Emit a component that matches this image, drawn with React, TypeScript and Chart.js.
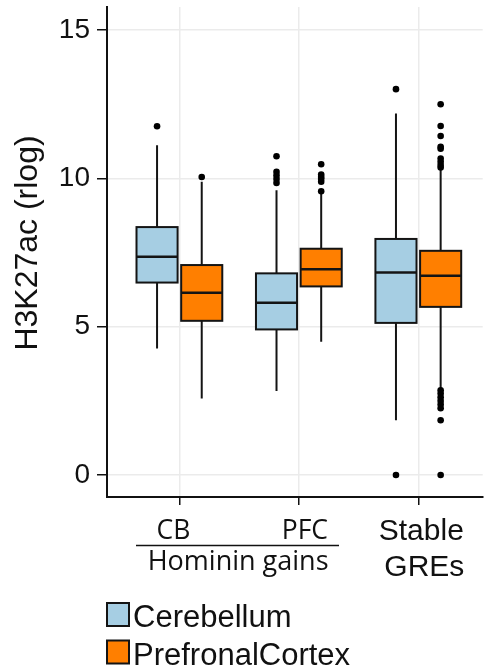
import React, { useEffect, useRef } from 'react';
import { Chart, registerables } from 'chart.js';

Chart.register(...registerables);

// ---- data ----
const categories = ['CB', 'PFC', 'Stable GREs'];
const seriesNames = ['Cerebellum', 'PrefronalCortex'];
const seriesColors = ['#a6cee3', '#ff7f00'];
const yTicks = [0, 5, 10, 15];

// Cerebellum box stats per category
const cbLow = [4.27, 2.83, 1.85];
const cbQ1 = [6.49, 4.91, 5.13];
const cbMed = [7.36, 5.81, 6.83];
const cbQ3 = [8.36, 6.8, 7.96];
const cbHigh = [11.12, 9.6, 12.19];
const cbOutliers = [
  [11.76],
  [10.75, 10.22, 10.1, 9.98, 9.85],
  [13.01, 0.0],
];

// PrefronalCortex box stats per category
const pfcLow = [2.58, 4.49, 2.86];
const pfcQ1 = [5.2, 6.36, 5.67];
const pfcMed = [6.15, 6.94, 6.72];
const pfcQ3 = [7.08, 7.63, 7.56];
const pfcHigh = [9.89, 9.52, 10.33];
const pfcOutliers = [
  [10.05],
  [10.48, 10.13, 10.05, 9.98, 9.89, 9.57],
  [12.5, 11.77, 11.43, 11.07, 11.0, 10.67, 10.56, 10.45, 10.37, 2.86, 2.75, 2.62, 2.5, 2.38, 2.25, 1.85, 0.0],
];

const DODGE = 0.187;
const BOX_W = 0.344;

const groups = [
  { low: cbLow, q1: cbQ1, med: cbMed, q3: cbQ3, high: cbHigh, out: cbOutliers, offset: -DODGE, color: seriesColors[0] },
  { low: pfcLow, q1: pfcQ1, med: pfcMed, q3: pfcQ3, high: pfcHigh, out: pfcOutliers, offset: DODGE, color: seriesColors[1] },
];

const INK = '#141414';

const boxPlugin = {
  id: 'boxes',
  beforeDatasetsDraw(chart: any) {
    const { ctx, chartArea, scales } = chart;
    const x = scales.x;
    const y = scales.y;
    ctx.save();
    ctx.beginPath();
    ctx.rect(chartArea.left, chartArea.top, chartArea.right - chartArea.left, chartArea.bottom - chartArea.top);
    ctx.clip();
    groups.forEach((g) => {
      categories.forEach((_, i) => {
        const c = i + g.offset;
        const cx = x.getPixelForValue(c);
        const l = x.getPixelForValue(c - BOX_W / 2);
        const r = x.getPixelForValue(c + BOX_W / 2);
        ctx.strokeStyle = INK;
        ctx.lineWidth = 2;
        ctx.beginPath();
        ctx.moveTo(cx, y.getPixelForValue(g.low[i]));
        ctx.lineTo(cx, y.getPixelForValue(g.high[i]));
        ctx.stroke();
        const top = y.getPixelForValue(g.q3[i]);
        const bot = y.getPixelForValue(g.q1[i]);
        ctx.fillStyle = g.color;
        ctx.fillRect(l, top, r - l, bot - top);
        ctx.lineWidth = 2;
        ctx.strokeRect(l, top, r - l, bot - top);
        ctx.lineWidth = 2.5;
        ctx.beginPath();
        const m = y.getPixelForValue(g.med[i]);
        ctx.moveTo(l, m);
        ctx.lineTo(r, m);
        ctx.stroke();
      });
    });
    ctx.restore();
  },
};

const labelPlugin = {
  id: 'labels',
  afterDraw(chart: any) {
    const { ctx, scales } = chart;
    const x = scales.x;
    ctx.save();
    ctx.fillStyle = '#111';
    ctx.textAlign = 'center';
    ctx.textBaseline = 'alphabetic';
    // y axis title
    ctx.save();
    ctx.translate(28, 243);
    ctx.rotate(-Math.PI / 2);
    ctx.font = '32px "Liberation Sans", Arial, sans-serif';
    ctx.textBaseline = 'middle';
    ctx.fillText('H3K27ac (rlog)', 0, 0);
    ctx.restore();

    // category labels
    const cx0 = x.getPixelForValue(0);
    const cx1 = x.getPixelForValue(1);
    const cx2 = x.getPixelForValue(2);
    ctx.font = '26.5px "Open Sans", "Noto Sans", sans-serif';
    ctx.fillText(categories[0], cx0 - 6, 538.5);
    ctx.fillText(categories[1], cx1 + 6, 538.5);
    ctx.strokeStyle = '#111';
    ctx.lineWidth = 1.5;
    ctx.beginPath();
    ctx.moveTo(136, 545.5);
    ctx.lineTo(339, 545.5);
    ctx.stroke();
    ctx.font = '27px "Open Sans", "Noto Sans", sans-serif';
    ctx.fillText('Hominin gains', (cx0 + cx1) / 2 - 1, 570);
    const parts = categories[2].split(' ');
    ctx.font = '30px "Liberation Sans", Arial, sans-serif';
    ctx.fillText(parts[0], cx2 + 3, 540);
    ctx.fillText(parts[1], cx2 + 6, 576);

    // legend
    ctx.textAlign = 'left';
    ctx.font = '31px "Liberation Sans", Arial, sans-serif';
    seriesNames.forEach((name, k) => {
      const top = 603 + k * 37.5;
      ctx.fillStyle = seriesColors[k];
      ctx.fillRect(107, top, 22, 23);
      ctx.strokeStyle = INK;
      ctx.lineWidth = 2;
      ctx.strokeRect(107, top, 22, 23);
      ctx.fillStyle = '#111';
      ctx.fillText(name, 133, top + 24);
    });
    ctx.restore();
  },
};

export default function App() {
  const ref = useRef<HTMLCanvasElement>(null);
  useEffect(() => {
    document.body.style.margin = '0';
    if (!ref.current) return;
    const datasets = groups.map((g, k) => ({
      label: seriesNames[k],
      data: g.out.flatMap((vals, i) => vals.map((v) => ({ x: i + g.offset, y: v }))),
      pointRadius: 3.3,
      pointHoverRadius: 3.3,
      backgroundColor: '#000',
      borderWidth: 0,
      showLine: false,
    }));
    const chart = new Chart(ref.current, {
      type: 'scatter',
      data: { datasets },
      options: {
        animation: false,
        responsive: false,
        events: [],
        layout: { padding: { top: 7, left: 0, right: 0, bottom: 0 } },
        plugins: { legend: { display: false }, tooltip: { enabled: false } },
        scales: {
          x: {
            type: 'linear',
            min: -0.606,
            max: 2.539,
            afterBuildTicks: (s: any) => {
              s.ticks = categories.map((_, i) => ({ value: i }));
            },
            afterFit: (s: any) => {
              s.height = 171;
              s.paddingLeft = 0;
              s.paddingRight = 0;
              s.paddingTop = 0;
              s.paddingBottom = 0;
            },
            ticks: { display: false },
            grid: { color: '#ebebeb', lineWidth: 1.5, tickColor: '#111', tickLength: 8, tickWidth: 1.5 },
            border: { display: true, color: '#111', width: 2 },
          },
          y: {
            type: 'linear',
            min: -0.74,
            max: 15.78,
            afterBuildTicks: (s: any) => {
              s.ticks = yTicks.map((v) => ({ value: v }));
            },
            afterFit: (s: any) => {
              s.width = 107;
              s.paddingTop = 0;
              s.paddingBottom = 0;
              s.paddingLeft = 0;
              s.paddingRight = 0;
            },
            ticks: {
              color: '#111',
              padding: 7,
              font: { family: '"Liberation Sans", Arial, sans-serif', size: 28 },
            },
            grid: { color: '#ebebeb', lineWidth: 1.5, tickColor: '#111', tickLength: 10, tickWidth: 1.5 },
            border: { display: true, color: '#111', width: 2 },
          },
        },
      },
      plugins: [boxPlugin, labelPlugin],
    });
    return () => chart.destroy();
  }, []);
  return (
    <div style={{ position: 'fixed', left: 0, top: 0, width: 486, height: 668, background: '#fff' }}>
      <canvas ref={ref} width={486} height={668} style={{ display: 'block' }} />
    </div>
  );
}
